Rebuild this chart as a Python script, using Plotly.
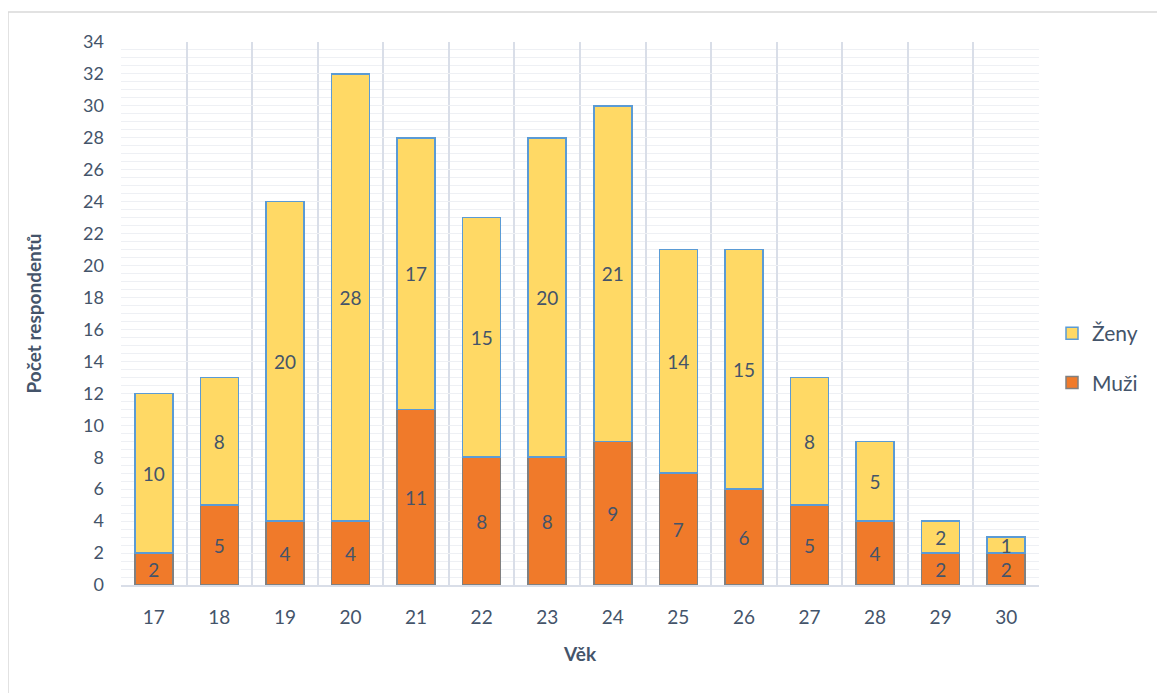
import plotly.graph_objects as go

ages = ["17", "18", "19", "20", "21", "22", "23", "24", "25", "26", "27", "28", "29", "30"]
muzi = [2, 5, 4, 4, 11, 8, 8, 9, 7, 6, 5, 4, 2, 2]
zeny = [10, 8, 20, 28, 17, 15, 20, 21, 14, 15, 8, 5, 2, 1]

W, H = 1165, 693
OFF = 8  # default page body margin
L, R, T, B = 121 - OFF, 1039 - OFF, 42 - OFF, 585 - OFF
pw, ph = R - L, B - T

font_fam = "Lato, 'Open Sans', sans-serif"
txt_col = "#44546A"

fig = go.Figure()
fig.add_trace(go.Bar(
    x=ages, y=muzi, name="Muži", legendgroup="m", legendrank=2,
    marker=dict(color="#F07A2A", line=dict(color="#808080", width=1.5)),
    text=muzi, textposition="inside", insidetextanchor="middle", textangle=0,
    textfont=dict(size=19, color=txt_col, family=font_fam),
    constraintext="none",
    width=0.58,
))
fig.add_trace(go.Bar(
    x=ages, y=zeny, name="Ženy", legendgroup="z", legendrank=1,
    marker=dict(color="#FFD965", line=dict(color="#5B9BD5", width=1.5)),
    text=zeny, textposition="inside", insidetextanchor="middle", textangle=0,
    textfont=dict(size=19, color=txt_col, family=font_fam),
    constraintext="none",
    width=0.58,
))

fig.update_layout(
    barmode="stack",
    width=W, height=H,
    margin=dict(l=L, r=W - R, t=T, b=H - B, autoexpand=False),
    paper_bgcolor="white", plot_bgcolor="white",
    font=dict(family=font_fam, color=txt_col, size=15),
    showlegend=True,
    legend=dict(
        x=(1052 - OFF - L) / pw, y=(B - (313 - OFF)) / ph, xanchor="left", yanchor="top",
        traceorder="grouped", tracegroupgap=19,
        font=dict(size=21, color=txt_col, family=font_fam),
        itemwidth=30,
    ),
    uniformtext=dict(minsize=10, mode="show"),
)
fig.update_xaxes(
    type="category", tickson="boundaries", showgrid=True,
    gridcolor="#D9DEE8", gridwidth=2,
    showline=True, linecolor="#D9DEE8", linewidth=2,
    ticks="", ticklabelstandoff=14, tickfont=dict(size=19, color=txt_col),
    title=dict(text="<b>Věk</b>", font=dict(size=19, color=txt_col), standoff=21),
)
fig.update_yaxes(
    range=[0, 34], dtick=2, tick0=0,
    showgrid=True, gridcolor="#EEF0F4", gridwidth=1,
    minor=dict(dtick=0.5, showgrid=True, gridcolor="#EEF0F4", gridwidth=1),
    zeroline=False, showline=False, ticks="",
    ticklabelstandoff=16,
    tickfont=dict(size=18, color=txt_col),
    title=dict(text="<b>Počet respondentů</b>", font=dict(size=19, color=txt_col), standoff=36),
)

# outer chart border (left and top visible)
fig.add_shape(
    type="rect", xref="paper", yref="paper", layer="below",
    x0=(8 - OFF - L) / pw, x1=(W + 20 - L) / pw,
    y0=(B - (H + 20)) / ph, y1=(B - (12 - OFF)) / ph,
    line=dict(color="#D9D9D9", width=1.5), fillcolor="rgba(0,0,0,0)",
)

fig.write_html("out.html")
